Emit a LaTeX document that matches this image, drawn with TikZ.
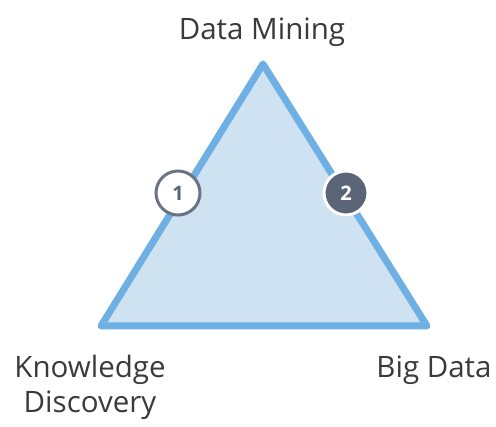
\documentclass[tikz,border=0pt]{standalone}
\usepackage{fontspec}
\setmainfont{Open Sans}
\usepackage{xcolor}
\usetikzlibrary{shadows}

\definecolor{edgeblue}{HTML}{6EB0E3}
\definecolor{fillblue}{HTML}{CFE2F1}
\definecolor{slate}{HTML}{5B6578}
\definecolor{textgray}{HTML}{3A3A3A}

\tikzset{
  label text/.style={text=textgray, font=\fontsize{29.5}{35}\selectfont, align=center, inner sep=0pt},
  step marker/.style={circle, minimum size=44pt, inner sep=0pt, line width=3pt,
    font=\fontsize{20}{20}\selectfont\bfseries,
    drop shadow={shadow xshift=0pt, shadow yshift=-1.5pt, opacity=0.35}},
}

\begin{document}
\begin{tikzpicture}[x=1pt,y=-1pt]
\useasboundingbox (0,0) rectangle (496,427); %canvas

% corners of the triangle
\coordinate (mining) at (263,64);
\coordinate (discovery) at (101,326);
\coordinate (bigdata) at (427,326);

\draw[edgeblue, fill=fillblue, line width=7pt, line join=round] (mining) -- (bigdata) -- (discovery) -- cycle;

\node[label text, anchor=base] (miningtext) at (262,40) {Data Mining};
\node[label text, anchor=base] (discoverytext) at (90,413) {Knowledge\\Discovery};
\node[label text, anchor=base] (bigdatatext) at (434,378) {Big Data};

\node[step marker, draw=slate!90, fill=white, text=slate] (one) at (178,193) {1};
\node[step marker, draw=white, fill=slate, text=white] (two) at (346,193) {2};

\end{tikzpicture}
\end{document}
